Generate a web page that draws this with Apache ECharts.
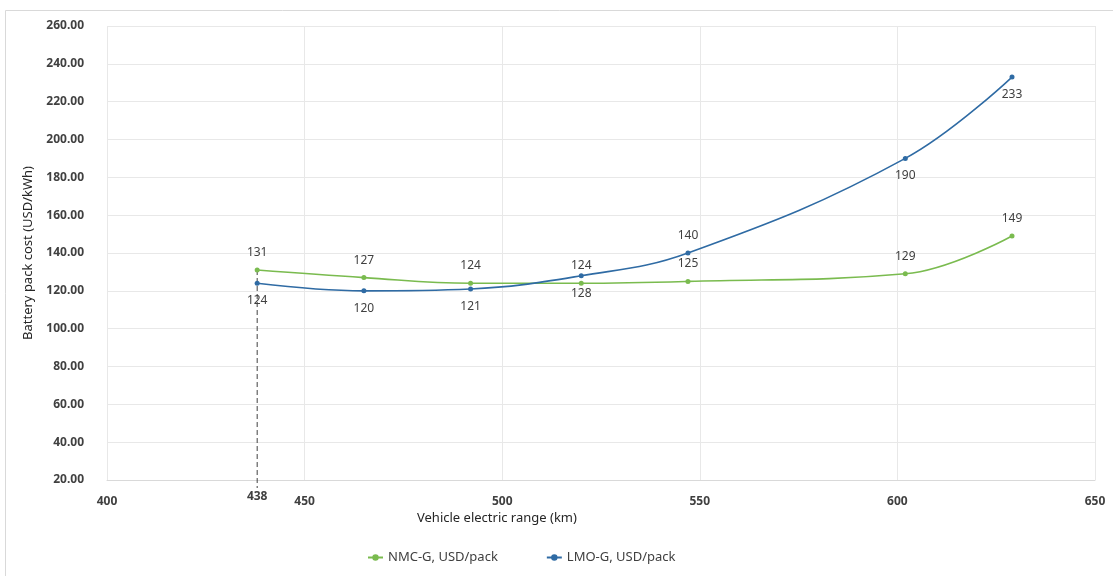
<!DOCTYPE html>
<html>
<head>
<meta charset="utf-8">
<script src="https://cdn.jsdelivr.net/npm/echarts@6/dist/echarts.min.js"></script>
<style>
  html, body { margin: 0; padding: 0; background: #ffffff; }
  #chart { width: 1113px; height: 576px; }
</style>
</head>
<body>
<div id="chart"></div>
<script>
// Vehicle electric range (km) for each battery configuration
const ranges = [438, 465, 492, 520, 547, 602, 629];
// Battery pack cost (USD/kWh)
const nmcCost = [131, 127, 124, 124, 125, 129, 149];
const lmoCost = [124, 120, 121, 128, 140, 190, 233];
// Label side for each LMO point
const lmoLabelSide = ['bottom', 'bottom', 'bottom', 'bottom', 'top', 'bottom', 'bottom'];
// Reference range highlighted with a dashed drop line
const refRange = 438;

const seriesNames = ['NMC-G, USD/pack', 'LMO-G, USD/pack'];
const colors = ['#7abb4f', '#2f6ba4'];
const FONT = 'Noto Sans, sans-serif';

const toPairs = (xs, ys) => xs.map((x, i) => [x, ys[i]]);

const chart = echarts.init(document.getElementById('chart'));

const labelStyle = {
  show: true,
  fontFamily: FONT,
  fontSize: 12,
  color: '#404040',
  distance: 9,
  formatter: p => String(p.value[1])
};

chart.setOption({
  animation: false,
  backgroundColor: '#ffffff',
  color: colors,
  textStyle: { fontFamily: FONT },
  grid: { left: 107, right: 18, top: 26, bottom: 96, containLabel: false },
  xAxis: {
    type: 'value',
    min: 400, max: 650, interval: 50,
    axisLine: { show: true, lineStyle: { color: '#d9d9d9', width: 1 } },
    axisTick: { show: false },
    splitLine: { show: true, lineStyle: { color: '#e8e8e8', width: 1 } },
    axisLabel: { fontFamily: FONT, fontSize: 12, fontWeight: 'bold', color: '#404040', margin: 16 }
  },
  yAxis: {
    type: 'value',
    min: 20, max: 260, interval: 20,
    name: 'Battery pack cost (USD/kWh)',
    nameLocation: 'middle',
    nameGap: 72,
    nameTextStyle: { fontFamily: FONT, fontSize: 13, color: '#262626' },
    axisLine: { show: false },
    axisTick: { show: false },
    splitLine: { show: true, lineStyle: { color: '#e8e8e8', width: 1 } },
    axisLabel: {
      fontFamily: FONT, fontSize: 12, fontWeight: 'bold', color: '#404040', margin: 23,
      formatter: v => v.toFixed(2)
    }
  },
  legend: {
    data: seriesNames,
    left: 362, top: 546,
    itemWidth: 15, itemHeight: 8, itemGap: 48,
    textStyle: { fontFamily: FONT, fontSize: 13, color: '#404040' }
  },
  graphic: [
    {
      type: 'rect', silent: true, z: -10,
      shape: { x: 5.5, y: 10.5, width: 1140, height: 620 },
      style: { fill: 'none', stroke: '#d9d9d9', lineWidth: 1 }
    },
    {
      type: 'text', left: 417, top: 512,
      style: { text: 'Vehicle electric range (km)', fontFamily: FONT, fontSize: 13, fill: '#262626' }
    }
  ],
  series: [
    {
      name: seriesNames[0],
      type: 'line',
      data: toPairs(ranges, nmcCost),
      smooth: 0.4,
      symbol: 'circle', symbolSize: 5,
      lineStyle: { width: 1.6, color: colors[0] },
      itemStyle: { color: colors[0] },
      label: Object.assign({ position: 'top' }, labelStyle),
      z: 3
    },
    {
      name: seriesNames[1],
      type: 'line',
      data: toPairs(ranges, lmoCost).map((d, i) => ({
        value: d,
        label: { position: lmoLabelSide[i] }
      })),
      smooth: 0.4,
      symbol: 'circle', symbolSize: 5,
      lineStyle: { width: 1.6, color: colors[1] },
      itemStyle: { color: colors[1] },
      label: Object.assign({ position: 'bottom' }, labelStyle),
      z: 4
    },
    {
      // dashed drop line from the reference point to below the x axis, with its value
      type: 'custom',
      clip: false,
      silent: true,
      z: 2,
      data: [[refRange, nmcCost[ranges.indexOf(refRange)]]],
      renderItem: (params, api) => {
        const x = api.value(0);
        const top = api.coord([x, api.value(1)]);
        const base = api.coord([x, 20]);
        return {
          type: 'group',
          children: [
            {
              type: 'line',
              shape: { x1: top[0], y1: top[1], x2: base[0], y2: base[1] + 8 },
              style: { stroke: '#404040', lineWidth: 1, lineDash: [5, 3] }
            },
            {
              type: 'text',
              x: base[0], y: base[1] + 17,
              style: {
                text: String(x), fontFamily: FONT, fontSize: 12, fontWeight: 'bold',
                fill: '#404040', align: 'center', verticalAlign: 'middle'
              }
            }
          ]
        };
      }
    }
  ]
});
</script>
</body>
</html>
